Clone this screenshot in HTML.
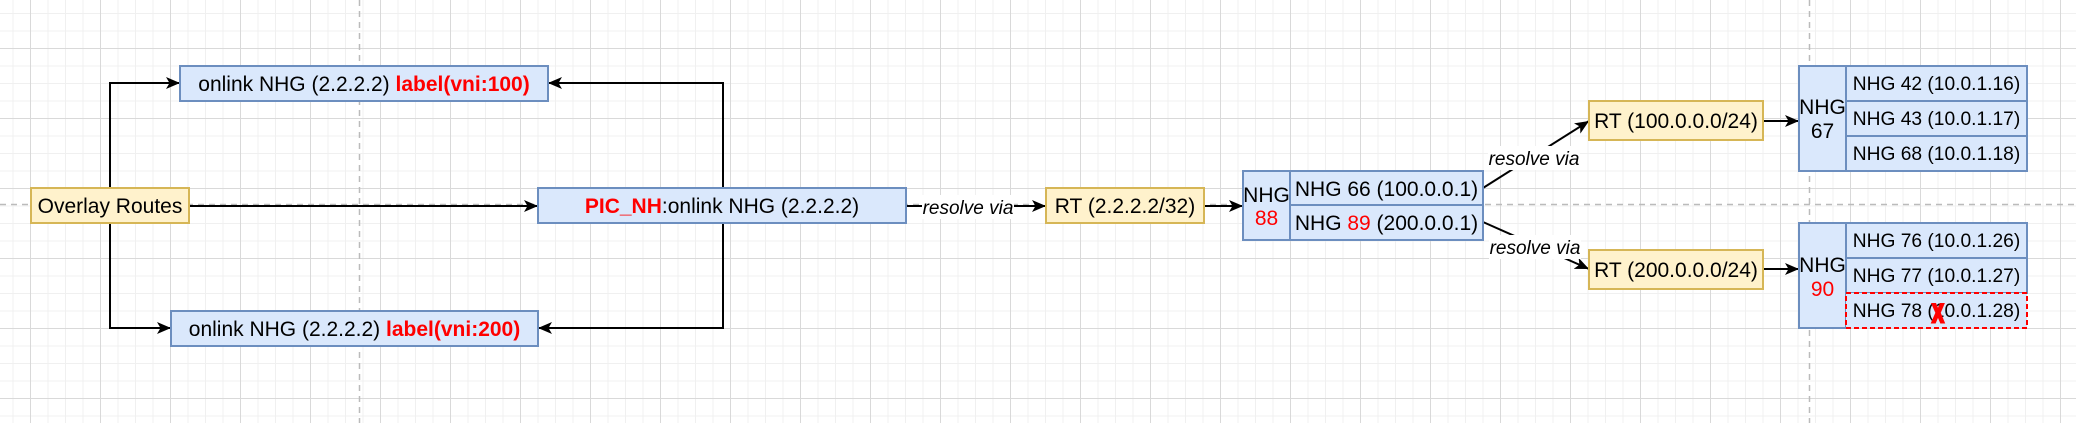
<!DOCTYPE html>
<html><head><meta charset="utf-8"><style>
html,body{margin:0;padding:0;}
body{width:2076px;height:423px;overflow:hidden;background:#fff;
background-image:
linear-gradient(to right,#d9d9d9 1px,transparent 1px),
linear-gradient(to bottom,#d9d9d9 1px,transparent 1px),
linear-gradient(to right,#f0f0f0 1px,transparent 1px),
linear-gradient(to bottom,#f0f0f0 1px,transparent 1px);
background-size:70px 70px,70px 70px,17.5px 17.5px,17.5px 17.5px;
background-position:30px 0,0 48px,30px 0,0 13px;}
svg{position:absolute;left:0;top:0;}
text{font-family:"Liberation Sans",Arial,sans-serif;font-size:21px;fill:#000;}
.b{fill:#dae8fc;stroke:#6c8ebf;stroke-width:2;}
.y{fill:#fff2cc;stroke:#d6b656;stroke-width:2;}
.e{stroke:#000;stroke-width:2;fill:none;}
.r{fill:#ff0000;}
.s{font-size:19.2px;}
.lbl{font-size:19px;font-style:italic;}
</style></head><body>
<svg width="2076" height="423" viewBox="0 0 2076 423">
<defs><marker id="a" viewBox="0 0 14 12" refX="14" refY="6" markerWidth="14" markerHeight="12" markerUnits="userSpaceOnUse" orient="auto"><path d="M0,0 L14,6 L0,12 L3.5,6 Z" fill="#000"/></marker></defs>
<line x1="0" y1="204.5" x2="2076" y2="204.5" stroke="#bbb" stroke-width="1.5" stroke-dasharray="6,5"/>
<line x1="359.5" y1="0" x2="359.5" y2="423" stroke="#bbb" stroke-width="1.5" stroke-dasharray="6,5"/>
<line x1="1809.5" y1="0" x2="1809.5" y2="423" stroke="#bbb" stroke-width="1.5" stroke-dasharray="6,5"/>

<path class="e" d="M110,188 V83 H180" marker-end="url(#a)"/>
<path class="e" d="M110,223 V328 H171" marker-end="url(#a)"/>
<path class="e" d="M189,206 H538" marker-end="url(#a)"/>
<path class="e" d="M723,188 V83 H548" marker-end="url(#a)"/>
<path class="e" d="M723,223 V328 H538" marker-end="url(#a)"/>
<path class="e" d="M906,206 H1046" marker-end="url(#a)"/>
<path class="e" d="M1204,206 H1243" marker-end="url(#a)"/>
<path class="e" d="M1483,188 L1589,121" marker-end="url(#a)"/>
<path class="e" d="M1483,222 L1589,269" marker-end="url(#a)"/>
<path class="e" d="M1763,121 H1799" marker-end="url(#a)"/>
<path class="e" d="M1763,269 H1799" marker-end="url(#a)"/>
<rect x="922" y="195" width="92" height="24" fill="#fff"/>
<text class="lbl" x="968" y="214" text-anchor="middle">resolve via</text>
<rect x="1488" y="146" width="92" height="24" fill="#fff"/>
<text class="lbl" x="1534" y="165" text-anchor="middle">resolve via</text>
<rect x="1489" y="235" width="92" height="24" fill="#fff"/>
<text class="lbl" x="1535" y="254" text-anchor="middle">resolve via</text>

<rect class="b" x="180" y="66" width="368" height="35"/>
<text x="364" y="91" text-anchor="middle">onlink NHG (2.2.2.2) <tspan class="r" font-weight="bold">label(vni:100)</tspan></text>
<rect class="b" x="171" y="311" width="367" height="35"/>
<text x="354.5" y="336" text-anchor="middle">onlink NHG (2.2.2.2) <tspan class="r" font-weight="bold">label(vni:200)</tspan></text>
<rect class="y" x="31" y="188" width="158" height="35"/>
<text x="110" y="213" text-anchor="middle">Overlay Routes</text>
<rect class="b" x="538" y="188" width="368" height="35"/>
<text x="722" y="213" text-anchor="middle"><tspan class="r" font-weight="bold">PIC_NH</tspan>:onlink NHG (2.2.2.2)</text>
<rect class="y" x="1046" y="188" width="158" height="35"/>
<text x="1125" y="213" text-anchor="middle">RT (2.2.2.2/32)</text>

<rect class="b" x="1243" y="171" width="47" height="69"/>
<text x="1266.5" y="202" text-anchor="middle" font-size="20">NHG</text>
<text x="1266.5" y="225" text-anchor="middle" class="r">88</text>
<rect class="b" x="1290" y="171" width="193" height="34"/>
<rect class="b" x="1290" y="205" width="193" height="35"/>
<text x="1386.5" y="196" text-anchor="middle">NHG 66 (100.0.0.1)</text>
<text x="1386.5" y="230" text-anchor="middle">NHG <tspan class="r">89</tspan> (200.0.0.1)</text>

<rect class="y" x="1589" y="101" width="174" height="39"/>
<text x="1676" y="128" text-anchor="middle">RT (100.0.0.0/24)</text>
<rect class="y" x="1589" y="250" width="174" height="39"/>
<text x="1676" y="277" text-anchor="middle">RT (200.0.0.0/24)</text>

<rect class="b" x="1799" y="66" width="47" height="105"/>
<text x="1822.5" y="114" text-anchor="middle" font-size="20">NHG</text>
<text x="1822.5" y="138" text-anchor="middle" font-size="20">67</text>
<rect class="b" x="1846" y="66" width="181" height="35"/>
<rect class="b" x="1846" y="101" width="181" height="35"/>
<rect class="b" x="1846" y="136" width="181" height="35"/>
<text class="s" x="1936.5" y="90" text-anchor="middle">NHG 42 (10.0.1.16)</text>
<text class="s" x="1936.5" y="125" text-anchor="middle">NHG 43 (10.0.1.17)</text>
<text class="s" x="1936.5" y="160" text-anchor="middle">NHG 68 (10.0.1.18)</text>

<rect class="b" x="1799" y="223" width="47" height="105"/>
<text x="1822.5" y="272" text-anchor="middle" font-size="20">NHG</text>
<text x="1822.5" y="296" text-anchor="middle" class="r" font-size="20">90</text>
<rect class="b" x="1846" y="223" width="181" height="35"/>
<rect class="b" x="1846" y="258" width="181" height="35"/>
<rect x="1846" y="293" width="181" height="35" fill="#dae8fc" stroke="#ff0000" stroke-width="2" stroke-dasharray="5,3"/>
<text class="s" x="1936.5" y="317" text-anchor="middle">NHG 78 (10.0.1.28)</text>
<text class="s" x="1936.5" y="247" text-anchor="middle">NHG 76 (10.0.1.26)</text>
<text class="s" x="1936.5" y="282" text-anchor="middle">NHG 77 (10.0.1.27)</text>
<text x="1938" y="322" text-anchor="middle" font-weight="bold" font-size="40" transform="translate(1938,322) scale(0.8,1.2) translate(-1938,-322)" style="fill:#ff0000;stroke:#ff0000;stroke-width:2.5">X</text>
</svg>
</body></html>
